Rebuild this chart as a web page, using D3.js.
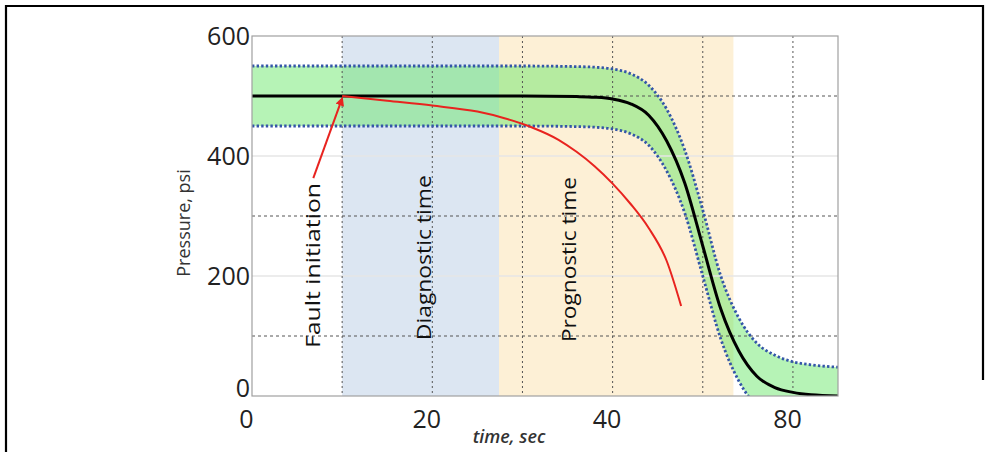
<html>
<head>
  <script src="https://d3js.org/d3.v7.min.js"></script>
  <meta charset="UTF-8">
  <style>
    body { margin: 0; background: #fff; }
    text { font-family: "Open Sans", sans-serif; }
  </style>
</head>
<body>
<svg id="chart"></svg>
<script>
// --- data ---
var time =       [0,   10,  20,  30,  36,  38,  40,  42,  44,  46,  48,  50,  52,  54,  56,  58,  60,  62,  65];
var nominal =    [500, 500, 500, 500, 499, 498, 495, 487, 468, 425, 355, 250, 145, 75,  33,  14,  6,   2,   0];
var upperBound = [550, 550, 550, 550, 549, 548, 545, 537, 518, 478, 410, 310, 200, 130, 88,  68,  57,  52,  48];
var lowerBound = [450, 450, 450, 450, 449, 448, 445, 437, 418, 375, 305, 200, 95,  25,  -17, -36, -44, -48, -50];

var faultTime =     [10, 15,  20,  25,  28,  31,  34,  36,  38,  40,  42,  44,  46,  47.6];
var faultPressure = [500, 492, 484, 474, 463, 448, 427, 407, 383, 354, 320, 280, 225, 150];

var phaseStart = [10, 27.4];
var phaseEnd =   [27.4, 53.4];

var arrowFrom = [6.8, 363];
var arrowTo =   [10, 496];

var noteText = ["Fault initiation", "Diagnostic time", "Prognostic time"];
var noteTime = [6.8, 19.1, 35.2];
var notePressure = [80, 93, 90];

var xTicks = [0, 20, 40, 60];
var xTickLabels = ["0", "20", "40", "80"];
var yTicks = [0, 200, 400, 600];
var yTickLabels = ["0", "200", "400", "600"];
var xGrid = [10, 20, 30, 40, 50, 60];
var yGridDark = [100, 300, 500];
var yGridLight = [200, 400];

// --- layout ---
var W = 988, H = 452;
var svg = d3.select('#chart').attr('width', W).attr('height', H);

var x = d3.scaleLinear().domain([0, 65]).range([252, 838]);
var y = d3.scaleLinear().domain([0, 600]).range([396, 36]);

var phaseColors = ['#dce6f2', '#fdf0d6'];

// outer black frame (right side stops short of the bottom)
svg.append('path')
  .attr('d', 'M6,' + H + 'V6H983V380')
  .attr('fill', 'none').attr('stroke', '#000').attr('stroke-width', 2.2);

svg.append('clipPath').attr('id', 'plotClip')
  .append('rect')
  .attr('x', x(0)).attr('y', y(600))
  .attr('width', x(65) - x(0)).attr('height', y(0) - y(600));

var plot = svg.append('g').attr('clip-path', 'url(#plotClip)');

// phase bands
plot.selectAll('rect.phase')
  .data(phaseStart)
  .enter().append('rect')
  .attr('class', 'phase')
  .attr('x', d => x(d))
  .attr('width', (d, i) => x(phaseEnd[i]) - x(d))
  .attr('y', y(600))
  .attr('height', y(0) - y(600))
  .attr('fill', (d, i) => phaseColors[i]);

// tolerance band
var pts = time.map((t, i) => ({t: t, lo: lowerBound[i], hi: upperBound[i], nom: nominal[i]}));
plot.append('path')
  .datum(pts)
  .attr('d', d3.area().x(d => x(d.t)).y0(d => y(d.lo)).y1(d => y(d.hi)).curve(d3.curveMonotoneX))
  .attr('fill', 'rgb(100,230,100)')
  .attr('fill-opacity', 0.47);

// grid
plot.selectAll('line.ygl')
  .data(yGridLight)
  .enter().append('line')
  .attr('x1', x(0)).attr('x2', x(65))
  .attr('y1', d => y(d)).attr('y2', d => y(d))
  .attr('stroke', '#e6e6e6').attr('stroke-width', 1.5);

plot.selectAll('line.xg')
  .data(xGrid)
  .enter().append('line')
  .attr('x1', d => x(d)).attr('x2', d => x(d))
  .attr('y1', y(600)).attr('y2', y(0))
  .attr('stroke', '#555').attr('stroke-width', 1)
  .attr('stroke-dasharray', '2,3');

plot.selectAll('line.yg')
  .data(yGridDark)
  .enter().append('line')
  .attr('x1', x(0)).attr('x2', x(65))
  .attr('y1', d => y(d)).attr('y2', d => y(d))
  .attr('stroke', '#555').attr('stroke-width', 1)
  .attr('stroke-dasharray', '3,3');

// bounds
var lineOf = function(key) {
  return d3.line().x(d => x(d.t)).y(d => y(d[key])).curve(d3.curveMonotoneX);
};
['hi', 'lo'].forEach(function(k) {
  plot.append('path')
    .datum(pts)
    .attr('d', lineOf(k))
    .attr('fill', 'none')
    .attr('stroke', '#3456a8')
    .attr('stroke-width', 2.8)
    .attr('stroke-dasharray', '2.4,2.2');
});

// nominal
plot.append('path')
  .datum(pts)
  .attr('d', lineOf('nom'))
  .attr('fill', 'none')
  .attr('stroke', '#000')
  .attr('stroke-width', 3);

// fault trajectory
plot.append('path')
  .datum(faultTime.map((t, i) => [t, faultPressure[i]]))
  .attr('d', d3.line().x(d => x(d[0])).y(d => y(d[1])).curve(d3.curveMonotoneX))
  .attr('fill', 'none')
  .attr('stroke', '#e8231f')
  .attr('stroke-width', 2);

// arrow
svg.append('defs').append('marker')
  .attr('id', 'head')
  .attr('viewBox', '0 0 10 10')
  .attr('refX', 8).attr('refY', 5)
  .attr('markerWidth', 4.5).attr('markerHeight', 4.5)
  .attr('orient', 'auto')
  .append('path').attr('d', 'M0,0L10,5L0,10z').attr('fill', '#e8231f');

svg.append('line')
  .attr('x1', x(arrowFrom[0])).attr('y1', y(arrowFrom[1]))
  .attr('x2', x(arrowTo[0])).attr('y2', y(arrowTo[1]))
  .attr('stroke', '#e8231f').attr('stroke-width', 2)
  .attr('marker-end', 'url(#head)');

// plot frame
svg.append('rect')
  .attr('x', x(0)).attr('y', y(600))
  .attr('width', x(65) - x(0)).attr('height', y(0) - y(600))
  .attr('fill', 'none').attr('stroke', '#a0a0a0').attr('stroke-width', 1.2);

// annotations
svg.selectAll('text.note')
  .data(noteText)
  .enter().append('text')
  .attr('class', 'note')
  .attr('transform', (d, i) => 'translate(' + (x(noteTime[i]) + 7) + ',' + y(notePressure[i]) + ') rotate(-90)')
  .attr('font-size', 20)
  .attr('font-weight', 500)
  .attr('fill', '#111')
  .attr('textLength', 165)
  .attr('lengthAdjust', 'spacingAndGlyphs')
  .text(d => d);

// axes
var xAxis = svg.append('g')
  .attr('transform', 'translate(0,' + y(0) + ')')
  .call(d3.axisBottom(x).tickValues(xTicks).tickFormat((d, i) => xTickLabels[i]).tickSize(0).tickPadding(14));
var yAxis = svg.append('g')
  .attr('transform', 'translate(' + x(0) + ',0)')
  .call(d3.axisLeft(y).tickValues(yTicks).tickFormat((d, i) => yTickLabels[i]).tickSize(0).tickPadding(2));
[xAxis, yAxis].forEach(function(a) {
  a.select('.domain').remove();
  a.selectAll('text')
    .attr('font-family', '"Open Sans", sans-serif')
    .attr('font-size', 25)
    .attr('fill', '#222');
});
xAxis.selectAll('text').attr('dx', -6);
// the bottom y label sits a little above the axis line
yAxis.selectAll('text').filter(d => d === 0).attr('dy', '0.0em');

svg.append('text')
  .attr('transform', 'translate(190,223) rotate(-90)')
  .attr('text-anchor', 'middle')
  .attr('font-size', 18)
  .attr('fill', '#333')
  .text('Pressure, psi');

svg.append('text')
  .attr('x', 509).attr('y', 443)
  .attr('text-anchor', 'middle')
  .attr('font-size', 18)
  .attr('font-style', 'italic')
  .attr('font-weight', 600)
  .attr('fill', '#333')
  .text('time, sec');
</script>
</body>
</html>
